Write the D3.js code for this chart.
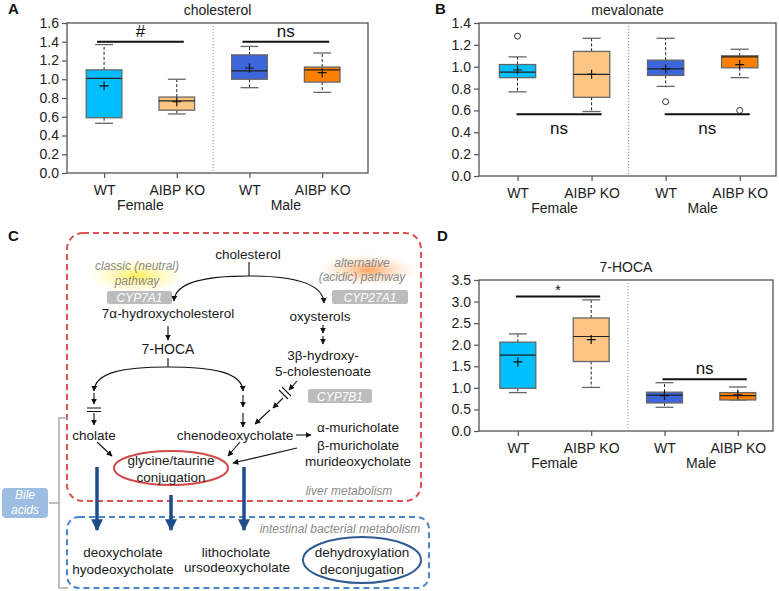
<!DOCTYPE html>
<html><head><meta charset="utf-8">
<script src="https://cdn.jsdelivr.net/npm/d3@7"></script>
<style>body{margin:0;background:#fff} text{font-family:"Liberation Sans",Arial,sans-serif}</style>
</head><body><svg id="fig" width="779" height="591"></svg>
<script>
// ---------------- DATA ----------------
const groupLabels = ["WT", "AIBP KO", "WT", "AIBP KO"];
const sexLabels = ["Female", "Male"];
const groupColors = ["#00bfff", "#fdc584", "#3d66dd", "#ff8000"];

// A: cholesterol
const cholTicks = [0, 0.2, 0.4, 0.6, 0.8, 1.0, 1.2, 1.4, 1.6];
const cholHigh = [1.37, 1.00, 1.35, 1.28];
const cholQ3 = [1.10, 0.81, 1.26, 1.13];
const cholMedian = [1.01, 0.77, 1.09, 1.10];
const cholQ1 = [0.59, 0.67, 1.00, 0.97];
const cholLow = [0.53, 0.63, 0.91, 0.86];
const cholMean = [0.93, 0.76, 1.12, 1.07];
const cholOutliers = [[], [], [], []];
const cholSigLabels = ["#", "ns"];
const cholSigLevel = [1.40, 1.40];

// B: mevalonate
const mevTicks = [0, 0.2, 0.4, 0.6, 0.8, 1.0, 1.2, 1.4];
const mevHigh = [1.09, 1.26, 1.26, 1.16];
const mevQ3 = [1.02, 1.14, 1.06, 1.10];
const mevMedian = [0.95, 0.93, 0.98, 1.09];
const mevQ1 = [0.90, 0.72, 0.92, 0.99];
const mevLow = [0.77, 0.59, 0.82, 0.90];
const mevMean = [0.97, 0.93, 0.98, 1.02];
const mevOutliers = [[1.28], [], [0.68], [0.60]];
const mevSigLabels = ["ns", "ns"];
const mevSigLevel = [0.565, 0.565];

// D: 7-HOCA
const hocaTicks = [0, 0.5, 1.0, 1.5, 2.0, 2.5, 3.0, 3.5];
const hocaHigh = [2.25, 3.04, 1.12, 1.02];
const hocaQ3 = [2.06, 2.62, 0.90, 0.89];
const hocaMedian = [1.76, 2.19, 0.83, 0.82];
const hocaQ1 = [0.99, 1.61, 0.65, 0.72];
const hocaLow = [0.89, 1.01, 0.55, 0.72];
const hocaMean = [1.60, 2.12, 0.82, 0.84];
const hocaOutliers = [[], [], [], []];
const hocaSigLabels = ["*", "ns"];
const hocaSigLevel = [3.12, 1.20];

// ---------------- DRAW ----------------
const svg = d3.select("#fig");
const FONT = '"Liberation Sans",Arial,sans-serif';

function drawPanel(c) {
  const g = svg.append("g");
  const x = d3.scaleLinear().domain(c.xdom).range([c.left, c.right]);
  const y = d3.scaleLinear().domain([0, c.ymax]).range([c.bottom, c.top]);
  const hw = (x(1) - x(0)) * 0.245;

  // frame
  g.append("rect").attr("x", c.left).attr("y", c.top)
    .attr("width", c.right - c.left).attr("height", c.bottom - c.top)
    .attr("fill", "none").attr("stroke", "#555").attr("stroke-width", 1.3);

  // divider
  g.append("line").attr("x1", x(1.5)).attr("x2", x(1.5))
    .attr("y1", c.top).attr("y2", c.bottom)
    .attr("stroke", "#999").attr("stroke-width", 1).attr("stroke-dasharray", "1.2,1.8");

  // y axis
  const ya = g.append("g").attr("transform", `translate(${c.left},0)`)
    .call(d3.axisLeft(y).tickValues(c.ticks).tickSize(5).tickPadding(3).tickFormat(d3.format(".1f")));
  ya.select(".domain").remove();
  ya.selectAll("line").attr("stroke", "#555").attr("stroke-width", 1.2);
  ya.selectAll("text").attr("font-size", 14).attr("fill", "#222").attr("font-family", FONT);

  // x axis
  const xa = g.append("g").attr("transform", `translate(0,${c.bottom})`)
    .call(d3.axisBottom(x).tickValues([0, 1, 2, 3]).tickSize(5).tickPadding(7).tickFormat(i => groupLabels[i]));
  xa.select(".domain").remove();
  xa.selectAll("line").attr("stroke", "#555").attr("stroke-width", 1.2);
  xa.selectAll("text").attr("font-size", 14).attr("fill", "#222").attr("font-family", FONT);

  // sex labels
  sexLabels.forEach((s, k) => {
    g.append("text").attr("x", x(2 * k + 0.5)).attr("y", c.bottom + 37)
      .attr("text-anchor", "middle").attr("font-size", 14).attr("fill", "#222").text(s);
  });

  // title
  g.append("text").attr("x", (c.left + c.right) / 2).attr("y", c.top - 8)
    .attr("text-anchor", "middle").attr("font-size", 14).attr("fill", "#222").text(c.title);

  // panel letter
  g.append("text").attr("x", c.letterX).attr("y", c.letterY)
    .attr("font-size", 15).attr("font-weight", "bold").attr("fill", "#111").text(c.letter);

  // boxes
  for (let i = 0; i < 4; i++) {
    const cx = x(i);
    // whiskers
    g.append("line").attr("x1", cx).attr("x2", cx).attr("y1", y(c.q3[i])).attr("y2", y(c.high[i]))
      .attr("stroke", "#222").attr("stroke-width", 1).attr("stroke-dasharray", "3,2");
    g.append("line").attr("x1", cx).attr("x2", cx).attr("y1", y(c.q1[i])).attr("y2", y(c.low[i]))
      .attr("stroke", "#222").attr("stroke-width", 1).attr("stroke-dasharray", "3,2");
    [c.high[i], c.low[i]].forEach(v => {
      g.append("line").attr("x1", cx - hw * 0.5).attr("x2", cx + hw * 0.5)
        .attr("y1", y(v)).attr("y2", y(v)).attr("stroke", "#666").attr("stroke-width", 1.3);
    });
    // box
    g.append("rect").attr("x", cx - hw).attr("width", 2 * hw)
      .attr("y", y(c.q3[i])).attr("height", y(c.q1[i]) - y(c.q3[i]))
      .attr("fill", groupColors[i]).attr("stroke", "#666").attr("stroke-width", 1.3);
    // median
    g.append("line").attr("x1", cx - hw).attr("x2", cx + hw)
      .attr("y1", y(c.median[i])).attr("y2", y(c.median[i]))
      .attr("stroke", "#222").attr("stroke-width", 1.2);
    // mean +
    const my = y(c.mean[i]);
    g.append("path").attr("d", `M${cx - 4.5},${my}H${cx + 4.5}M${cx},${my - 4.5}V${my + 4.5}`)
      .attr("stroke", "#111").attr("stroke-width", 1.2);
    // outliers
    c.outliers[i].forEach(v => {
      g.append("circle").attr("cx", cx).attr("cy", y(v)).attr("r", 3)
        .attr("fill", "#fff").attr("stroke", "#333").attr("stroke-width", 1);
    });
  }

  // significance bars
  for (let k = 0; k < 2; k++) {
    const yy = y(c.sigLevel[k]);
    const x1 = x(2 * k) + c.sigPad[0], x2 = x(2 * k + 1) + c.sigPad[1];
    g.append("line").attr("x1", x1).attr("x2", x2).attr("y1", yy).attr("y2", yy)
      .attr("stroke", "#111").attr("stroke-width", 2);
    const lab = c.sigLabels[k];
    const below = c.sigBelow[k];
    const fs = lab === "*" ? 14 : 17;
    g.append("text").attr("x", (x1 + x2) / 2)
      .attr("y", below ? yy + 20 : (lab === "*" ? yy - 1 : yy - 5))
      .attr("text-anchor", "middle").attr("font-size", fs).attr("fill", "#111").text(lab);
  }
}

drawPanel({
  letter: "A", letterX: 8, letterY: 14, title: "cholesterol",
  left: 67, right: 368, top: 23, bottom: 173, ymax: 1.6, ticks: cholTicks,
  xdom: [-0.51, 3.63],
  high: cholHigh, q3: cholQ3, median: cholMedian, q1: cholQ1, low: cholLow, mean: cholMean,
  outliers: cholOutliers, sigLabels: cholSigLabels, sigLevel: cholSigLevel,
  sigPad: [-7, 7], sigBelow: [false, false]
});
drawPanel({
  letter: "B", letterX: 435, letterY: 14, title: "mevalonate",
  left: 479, right: 776, top: 23, bottom: 176, ymax: 1.4, ticks: mevTicks,
  xdom: [-0.52, 3.49],
  high: mevHigh, q3: mevQ3, median: mevMedian, q1: mevQ1, low: mevLow, mean: mevMean,
  outliers: mevOutliers, sigLabels: mevSigLabels, sigLevel: mevSigLevel,
  sigPad: [-1, 10], sigBelow: [true, true]
});
drawPanel({
  letter: "D", letterX: 437, letterY: 241, title: "7-HOCA",
  left: 479, right: 773, top: 280, bottom: 431, ymax: 3.5, ticks: hocaTicks,
  xdom: [-0.53, 3.48],
  high: hocaHigh, q3: hocaQ3, median: hocaMedian, q1: hocaQ1, low: hocaLow, mean: hocaMean,
  outliers: hocaOutliers, sigLabels: hocaSigLabels, sigLevel: hocaSigLevel,
  sigPad: [-2, 9], sigBelow: [false, false]
});

// ---------------- PANEL C: pathway diagram ----------------
const defs = svg.append("defs");
defs.append("marker").attr("id", "ah").attr("viewBox", "0 0 10 10").attr("refX", 9).attr("refY", 5)
  .attr("markerWidth", 6).attr("markerHeight", 6).attr("markerUnits", "userSpaceOnUse").attr("orient", "auto")
  .append("path").attr("d", "M0,0L10,5L0,10z").attr("fill", "#111");
defs.append("marker").attr("id", "bh").attr("viewBox", "0 0 10 10").attr("refX", 9).attr("refY", 5)
  .attr("markerWidth", 12).attr("markerHeight", 12).attr("markerUnits", "userSpaceOnUse").attr("orient", "auto")
  .append("path").attr("d", "M0,0L10,5L0,10z").attr("fill", "#1f4d8c");
const gy = defs.append("radialGradient").attr("id", "glowY");
gy.append("stop").attr("offset", "0%").attr("stop-color", "#fff04a").attr("stop-opacity", 0.95);
gy.append("stop").attr("offset", "100%").attr("stop-color", "#fff6b0").attr("stop-opacity", 0);
const go = defs.append("radialGradient").attr("id", "glowO");
go.append("stop").attr("offset", "0%").attr("stop-color", "#ff9a4a").attr("stop-opacity", 0.9);
go.append("stop").attr("offset", "100%").attr("stop-color", "#ffd9b8").attr("stop-opacity", 0);

const C = svg.append("g");
C.append("text").attr("x", 8).attr("y", 241).attr("font-size", 15).attr("font-weight", "bold").attr("fill", "#111").text("C");

// boxes
C.append("rect").attr("x", 67).attr("y", 233).attr("width", 354).attr("height", 268).attr("rx", 16)
  .attr("fill", "none").attr("stroke", "#d9524f").attr("stroke-width", 2).attr("stroke-dasharray", "6,4");
C.append("rect").attr("x", 67).attr("y", 517).attr("width", 362).attr("height", 71).attr("rx", 12)
  .attr("fill", "none").attr("stroke", "#4a85c9").attr("stroke-width", 2).attr("stroke-dasharray", "6,4");

// glows
C.append("ellipse").attr("cx", 137).attr("cy", 276).attr("rx", 50).attr("ry", 18).attr("fill", "url(#glowY)");
C.append("ellipse").attr("cx", 368).attr("cy", 270).attr("rx", 50).attr("ry", 16).attr("fill", "url(#glowO)");

function t(xx, yy, s, o = {}) {
  C.append("text").attr("x", xx).attr("y", yy).attr("dy", "0.35em").attr("text-anchor", "middle")
    .attr("font-size", o.size || 13.5).attr("fill", o.fill || "#1a1a1a")
    .attr("font-style", o.italic ? "italic" : "normal").text(s);
}
const grayIt = { size: 12, italic: true, fill: "#8a8a8a" };
function enzyme(x0, y0, w, h, s) {
  C.append("rect").attr("x", x0).attr("y", y0).attr("width", w).attr("height", h).attr("rx", 2).attr("fill", "#bcbcbc");
  t(x0 + w / 2, y0 + h / 2 + 0.5, s, { size: 12, italic: true, fill: "#fff" });
}

t(248, 254, "cholesterol");
t(137, 266, "classic (neutral)", grayIt);
t(137, 281, "pathway", grayIt);
t(362, 263, "alternative", grayIt);
t(362, 277, "(acidic) pathway", grayIt);
enzyme(107, 291, 65, 13, "CYP7A1");
enzyme(332, 290, 76, 14, "CYP27A1");
t(168, 313, "7α-hydroxycholesterol");
t(320, 316, "oxysterols");
t(168, 349, "7-HOCA", { size: 14 });
t(323, 355, "3β-hydroxy-");
t(323, 371, "5-cholestenoate");
enzyme(308, 389, 64, 14, "CYP7B1");
t(94, 435, "cholate");
t(235, 435, "chenodeoxycholate");
t(358, 427, "α-muricholate");
t(358, 445, "β-muricholate");
t(358, 461, "murideoxycholate");
C.append("ellipse").attr("cx", 171).attr("cy", 468).attr("rx", 57).attr("ry", 17)
  .attr("fill", "none").attr("stroke", "#d24a4a").attr("stroke-width", 2);
t(171, 460, "glycine/taurine");
t(171, 477, "conjugation");
t(349, 491, "liver metabolism", grayIt);
t(340, 529, "intestinal bacterial metabolism", grayIt);
t(123, 552, "deoxycholate");
t(123, 569, "hyodeoxycholate");
t(236, 552, "lithocholate");
t(237, 567, "ursodeoxycholate");
C.append("ellipse").attr("cx", 362).attr("cy", 560).attr("rx", 59).attr("ry", 23)
  .attr("fill", "none").attr("stroke", "#2f5a92").attr("stroke-width", 2);
t(362, 552, "dehydroxylation");
t(362, 569, "deconjugation");

// bile acids tag + bracket
C.append("path").attr("d", "M68,418H59V588H68M59,503H49").attr("fill", "none")
  .attr("stroke", "#aaa").attr("stroke-width", 1.5);
C.append("rect").attr("x", 2).attr("y", 488).attr("width", 46).attr("height", 30).attr("rx", 4).attr("fill", "#9dbde2");
t(25, 495, "Bile", { size: 12, italic: true, fill: "#fff" });
t(25, 510, "acids", { size: 12, italic: true, fill: "#fff" });

// black connectors
function ln(d, arrow = true) {
  const p = C.append("path").attr("d", d).attr("fill", "none").attr("stroke", "#111").attr("stroke-width", 1.1);
  if (arrow) p.attr("marker-end", "url(#ah)");
}
ln("M249,262V276", false);
ln("M249,276C205,276 175,282 174,301");
ln("M249,276C293,276 323,283 324,303");
ln("M168,326V340");
ln("M323,325V333");
ln("M323,336V344");
ln("M168,358V367", false);
ln("M168,367C124,367 95,372 94,391");
ln("M168,367C212,367 242,372 243,391");
ln("M94,393V404");
ln("M94,413V425");
C.append("path").attr("d", "M87,408H101M87,411.5H101").attr("stroke", "#111").attr("stroke-width", 1.1);
ln("M243,395V407");
ln("M243,413V427");
ln("M297,381L289,390");
C.append("path").attr("d", "M279,390L288,399M282,387L291,396").attr("stroke", "#111").attr("stroke-width", 1.1);
ln("M283,398L273,408");
ln("M270,410L255,424");
ln("M296,435H311");
ln("M97,442L112,456");
ln("M240,442L228,456");
ln("M297,448L233,463");

// thick blue arrows
[[97, 467], [171, 495], [244, 467]].forEach(([bx, by]) => {
  C.append("path").attr("d", `M${bx},${by}V530`).attr("stroke", "#1f4d8c").attr("stroke-width", 3.5)
    .attr("marker-end", "url(#bh)");
});
</script></body></html>
